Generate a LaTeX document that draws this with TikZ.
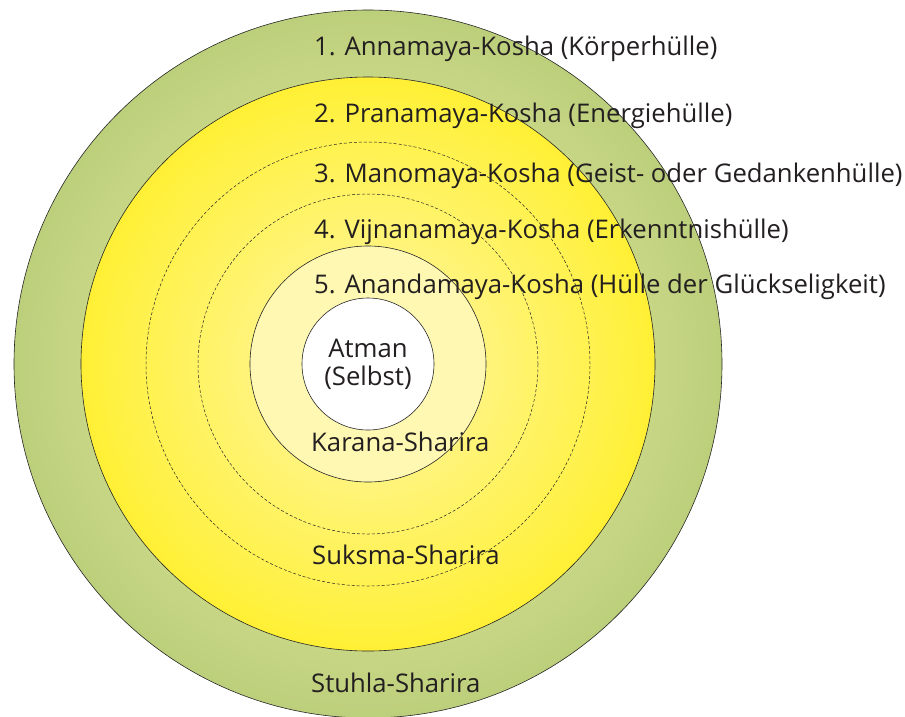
\documentclass[tikz,border=0pt]{standalone}
\usepackage{fontspec}
\setmainfont{Open Sans}
\definecolor{txt}{HTML}{231F20}
\definecolor{grI}{HTML}{C7D685}
\definecolor{grO}{HTML}{BCCF7B}
\definecolor{ylA}{HTML}{FFF47C}
\definecolor{ylE}{HTML}{FFF035}
\definecolor{kar}{HTML}{FFF8B2}
\pgfdeclareradialshading{greenring}{\pgfpoint{0bp}{0bp}}{color(0bp)=(grI); color(20.2bp)=(grI); color(25bp)=(grO); color(50bp)=(grO)}
\pgfdeclareradialshading{yellowdisk}{\pgfpoint{0bp}{0bp}}{color(0bp)=(ylA); color(10bp)=(ylA); color(25bp)=(ylE); color(50bp)=(ylE)}
\begin{document}
\begin{tikzpicture}[x=1pt,y=-1pt,
  ring/.style={circle, inner sep=0pt, draw=black!85, line width=0.6pt},
  dashring/.style={circle, inner sep=0pt, draw=black!85, line width=0.5pt, dash pattern=on 3pt off 2pt},
  lbl/.style={anchor=base west, inner sep=0pt, text=txt, font=\fontsize{25.7}{30}\selectfont},
  clbl/.style={anchor=base, inner sep=0pt, text=txt, font=\fontsize{25.7}{30}\selectfont}]
\fill[white] (0,0) rectangle (905,716);
\useasboundingbox (0,0) rectangle (905,716);
\coordinate (c) at (368,364);
\node[ring, minimum size=708pt, shading=greenring] (stuhla) at (c) {};
\node[ring, minimum size=574pt, shading=yellowdisk] (prana) at (c) {};
\node[dashring, minimum size=444pt] (mano) at (c) {};
\node[dashring, minimum size=340pt] (vij) at (c) {};
\node[ring, minimum size=236pt, fill=kar] (karana) at (c) {};
\node[ring, minimum size=132pt, fill=white] (atman) at (c) {};
\node[lbl] (k1) at (314,55) {1. Annamaya-Kosha (Körperhülle)};
\node[lbl] (k2) at (314,122) {2. Pranamaya-Kosha (Energiehülle)};
\node[lbl] (k3) at (314,182) {3. Manomaya-Kosha (Geist- oder Gedankenhülle)};
\node[lbl] (k4) at (314,238) {4. Vijnanamaya-Kosha (Erkenntnishülle)};
\node[lbl] (k5) at (314,293) {5. Anandamaya-Kosha (Hülle der Glückseligkeit)};
\node[clbl] (at1) at (368,357) {Atman};
\node[clbl] (at2) at (368,385) {(Selbst)};
\node[lbl] (s1) at (311,451) {Karana-Sharira};
\node[lbl] (s2) at (312,564) {Suksma-Sharira};
\node[lbl] (s3) at (311,692) {Stuhla-Sharira};
\end{tikzpicture}
\end{document}
